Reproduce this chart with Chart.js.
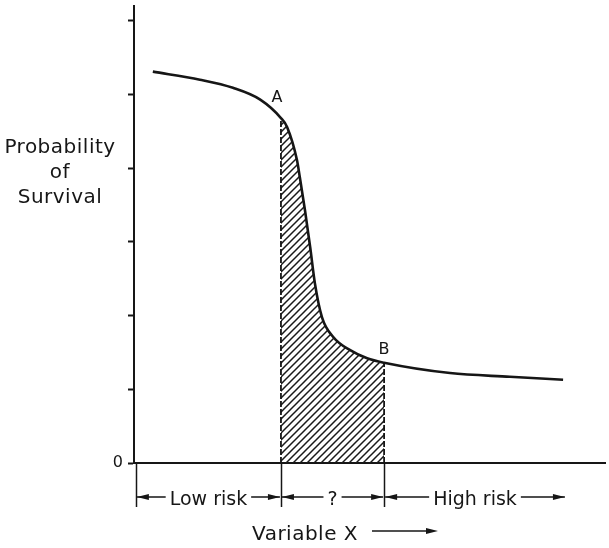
<!DOCTYPE html>
<html>
<head>
<meta charset="utf-8">
<script src="https://cdn.jsdelivr.net/npm/chart.js@4/dist/chart.umd.min.js"></script>
<style>
  html, body { margin: 0; padding: 0; background: #fff; }
</style>
</head>
<body>
<canvas id="chart" width="609" height="548"></canvas>
<script>
/* ── Data ── */
const X_VALS = [0.40, 1.40, 2.10, 2.68, 3.12, 3.25, 3.46, 3.52, 3.63, 3.74, 3.84, 3.99, 4.23, 4.59, 4.95, 5.31, 6.71, 7.98, 9.11];
const SURVIVAL = [5.31, 5.20, 5.09, 4.93, 4.68, 4.56, 4.11, 3.88, 3.43, 2.93, 2.44, 1.98, 1.71, 1.53, 1.42, 1.36, 1.22, 1.17, 1.13];
const IDX_A = 4;
const IDX_B = 15;
const Y_TICKS = [0, 1, 2, 3, 4, 5, 6];
const RISK_EDGES = [0.04, 3.12, 5.31, 9.17];
const RISK_LABELS = ["Low risk", "?", "High risk"];
const Y_LABEL = ["Probability", "of", "Survival"];
const X_LABEL = "Variable X";

const INK = "#161616";
const FONT = "DejaVu Sans";

const curve = X_VALS.map((x, i) => ({ x, y: SURVIVAL[i] }));
const shaded = curve.slice(IDX_A, IDX_B + 1);
const pA = curve[IDX_A];
const pB = curve[IDX_B];

const ctx = document.getElementById("chart").getContext("2d");

/* ── Hatch pattern ── */
function makeHatch() {
  const n = 7;
  const c = document.createElement("canvas");
  c.width = n;
  c.height = n;
  const g = c.getContext("2d");
  g.strokeStyle = "#1a1a1a";
  g.lineWidth = 1.5;
  g.beginPath();
  g.moveTo(0, n); g.lineTo(n, 0);
  g.moveTo(-1, 1); g.lineTo(1, -1);
  g.moveTo(n - 1, n + 1); g.lineTo(n + 1, n - 1);
  g.stroke();
  return ctx.createPattern(c, "repeat");
}

function arrowHead(g, x, y, dir) {
  g.beginPath();
  g.moveTo(x, y);
  g.lineTo(x - dir * 12, y - 3);
  g.lineTo(x - dir * 12, y + 3);
  g.closePath();
  g.fill();
}

/* ── Labels, brackets and arrows ── */
const annotate = {
  id: "annotate",
  afterDraw(chart) {
    const g = chart.ctx;
    const xs = chart.scales.x;
    const ys = chart.scales.y;
    const base = ys.getPixelForValue(0);
    g.save();
    g.fillStyle = INK;
    g.strokeStyle = INK;

    // y title
    g.font = `20px "${FONT}"`;
    g.letterSpacing = "0.5px";
    g.textAlign = "center";
    g.textBaseline = "alphabetic";
    Y_LABEL.forEach((t, i) => g.fillText(t, 60, 153 + i * 25));
    g.letterSpacing = "0px";

    // point letters
    g.font = `16px "${FONT}"`;
    g.fillText("A", xs.getPixelForValue(pA.x) - 4, ys.getPixelForValue(pA.y) - 16);
    g.fillText("B", xs.getPixelForValue(pB.x), ys.getPixelForValue(pB.y) - 9);

    // bracket lines
    g.lineWidth = 1.5;
    RISK_EDGES.slice(0, 3).forEach((v) => {
      const px = Math.round(xs.getPixelForValue(v)) + 0.5;
      g.beginPath();
      g.moveTo(px, base + 1);
      g.lineTo(px, base + 44);
      g.stroke();
    });

    // risk segments
    const ay = base + 34;
    g.font = `19px "${FONT}"`;
    RISK_LABELS.forEach((t, i) => {
      const x0 = xs.getPixelForValue(RISK_EDGES[i]) + 1;
      const x1 = xs.getPixelForValue(RISK_EDGES[i + 1]) - 1;
      const mid = (x0 + x1) / 2;
      const w = g.measureText(t).width;
      g.fillText(t, mid, base + 42);
      g.lineWidth = 1.5;
      g.beginPath();
      g.moveTo(x0, ay); g.lineTo(mid - w / 2 - 4, ay);
      g.moveTo(mid + w / 2 + 4, ay); g.lineTo(x1, ay);
      g.stroke();
      arrowHead(g, x0, ay, -1);
      arrowHead(g, x1, ay, 1);
    });

    // x title
    g.font = `20px "${FONT}"`;
    g.letterSpacing = "0.5px";
    g.textAlign = "left";
    g.fillText(X_LABEL, 252, 540);
    g.letterSpacing = "0px";
    g.beginPath();
    g.moveTo(372, 531); g.lineTo(430, 531);
    g.stroke();
    arrowHead(g, 438, 531, 1);
    g.restore();
  },
};

new Chart(ctx, {
  type: "line",
  data: {
    datasets: [
      {
        data: curve,
        borderColor: INK,
        borderWidth: 2.6,
        pointRadius: 0,
        cubicInterpolationMode: "monotone",
        fill: false,
        order: 0,
      },
      {
        data: shaded,
        borderWidth: 0,
        borderColor: "rgba(0,0,0,0)",
        backgroundColor: makeHatch(),
        pointRadius: 0,
        cubicInterpolationMode: "monotone",
        fill: "origin",
        order: 2,
      },
      {
        data: [{ x: pA.x, y: 0 }, { x: pA.x, y: pA.y }],
        borderColor: INK,
        borderWidth: 1.8,
        borderDash: [6, 2],
        pointRadius: 0,
        order: 1,
      },
      {
        data: [{ x: pB.x, y: 0 }, { x: pB.x, y: pB.y }],
        borderColor: INK,
        borderWidth: 1.8,
        borderDash: [6, 2],
        pointRadius: 0,
        order: 1,
      },
    ],
  },
  options: {
    responsive: false,
    animation: false,
    events: [],
    layout: { padding: { top: 6, right: 4, left: 0, bottom: 0 } },
    plugins: { legend: { display: false }, tooltip: { enabled: false } },
    scales: {
      x: {
        type: "linear",
        min: 0,
        max: 10,
        border: { display: true, color: INK, width: 2 },
        grid: { display: false },
        ticks: { display: false },
        afterFit: (s) => { s.height = 85; s.paddingLeft = 0; s.paddingRight = 0; },
      },
      y: {
        min: 0,
        max: 6.2,
        border: { display: true, color: INK, width: 2 },
        grid: { drawOnChartArea: false, drawTicks: true, tickLength: 6, tickWidth: 2, tickColor: INK },
        afterBuildTicks: (axis) => { axis.ticks = Y_TICKS.map((v) => ({ value: v })); },
        ticks: {
          padding: 5,
          color: INK,
          font: { family: FONT, size: 16 },
          callback: (v) => (v === 0 ? "0" : ""),
        },
        afterFit: (s) => { s.width = 134; s.paddingTop = 0; s.paddingBottom = 0; },
      },
    },
  },
  plugins: [annotate],
});
</script>
</body>
</html>
